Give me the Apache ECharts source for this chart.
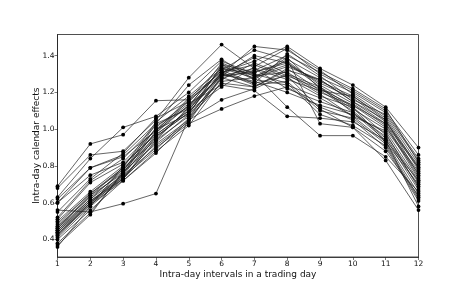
<!DOCTYPE html>
<html>
<head>
<meta charset="utf-8">
<script src="https://cdn.jsdelivr.net/npm/echarts@6/dist/echarts.min.js"></script>
<style>html,body{margin:0;padding:0;background:#fff}#c{width:465px;height:290px}</style>
</head>
<body>
<div id="c"></div>
<script>
const intervals = [1,2,3,4,5,6,7,8,9,10,11,12];
const yTicks = [0.4,0.6,0.8,1.0,1.2,1.4];
const s1 = [0.69, 0.92, 0.97, 1.155, 1.16, 1.30, 1.25, 1.29, 1.22, 1.13, 1.03, 0.74];
const s2 = [0.68, 0.86, 0.88, 1.05, 1.28, 1.46, 1.33, 1.27, 1.21, 1.18, 1.06, 0.79];
const s3 = [0.63, 0.84, 1.01, 1.07, 1.20, 1.37, 1.30, 1.12, 0.965, 0.965, 0.85, 0.66];
const s4 = [0.62, 0.79, 0.86, 1.03, 1.24, 1.38, 1.27, 1.24, 1.17, 1.07, 0.93, 0.70];
const s5 = [0.60, 0.79, 0.85, 0.99, 1.17, 1.31, 1.37, 1.45, 1.33, 1.24, 1.12, 0.90];
const s6 = [0.60, 0.75, 0.82, 1.00, 1.14, 1.24, 1.21, 1.07, 1.06, 1.04, 0.94, 0.72];
const s7 = [0.56, 0.55, 0.595, 0.65, 1.06, 1.30, 1.26, 1.20, 1.13, 1.08, 0.98, 0.68];
const s8 = [0.55, 0.73, 0.87, 1.06, 1.15, 1.32, 1.43, 1.38, 1.28, 1.20, 1.09, 0.84];
const s9 = [0.52, 0.72, 0.84, 1.02, 1.12, 1.36, 1.29, 1.31, 1.20, 1.13, 1.01, 0.77];
const s10 = [0.51, 0.71, 0.81, 0.97, 1.10, 1.23, 1.34, 1.44, 1.30, 1.21, 1.10, 0.86];
const s11 = [0.50, 0.66, 0.80, 0.98, 1.13, 1.29, 1.40, 1.36, 1.25, 1.17, 1.04, 0.80];
const s12 = [0.49, 0.65, 0.79, 1.04, 1.18, 1.33, 1.28, 1.34, 1.27, 1.15, 1.05, 0.75];
const s13 = [0.48, 0.65, 0.78, 0.96, 1.09, 1.31, 1.24, 1.26, 1.10, 1.06, 0.92, 0.63];
const s14 = [0.47, 0.64, 0.79, 0.94, 1.07, 1.28, 1.32, 1.40, 1.31, 1.22, 1.11, 0.82];
const s15 = [0.47, 0.63, 0.77, 0.92, 1.05, 1.16, 1.22, 1.30, 1.23, 1.12, 0.97, 0.71];
const s16 = [0.46, 0.64, 0.76, 0.95, 1.11, 1.30, 1.45, 1.43, 1.32, 1.19, 1.07, 0.81];
const s17 = [0.46, 0.62, 0.75, 0.90, 1.03, 1.11, 1.18, 1.23, 1.12, 1.05, 0.90, 0.61];
const s18 = [0.45, 0.62, 0.78, 0.98, 1.16, 1.35, 1.31, 1.37, 1.24, 1.14, 1.02, 0.73];
const s19 = [0.45, 0.61, 0.74, 0.93, 1.08, 1.27, 1.36, 1.29, 1.11, 1.01, 0.88, 0.64];
const s20 = [0.44, 0.60, 0.76, 1.01, 1.15, 1.32, 1.25, 1.41, 1.29, 1.16, 1.08, 0.83];
const s21 = [0.44, 0.61, 0.73, 0.91, 1.04, 1.29, 1.33, 1.22, 1.15, 1.09, 0.96, 0.69];
const s22 = [0.43, 0.60, 0.75, 0.97, 1.10, 1.34, 1.29, 1.35, 1.26, 1.18, 1.05, 0.78];
const s23 = [0.43, 0.59, 0.74, 0.89, 1.06, 1.25, 1.23, 1.33, 1.21, 1.10, 0.95, 0.67];
const s24 = [0.42, 0.60, 0.73, 0.94, 1.12, 1.30, 1.39, 1.30, 1.19, 1.07, 0.99, 0.72];
const s25 = [0.42, 0.59, 0.72, 0.88, 1.02, 1.26, 1.28, 1.39, 1.22, 1.11, 1.00, 0.76];
const s26 = [0.41, 0.58, 0.73, 0.96, 1.09, 1.31, 1.35, 1.28, 1.18, 1.12, 0.93, 0.65];
const s27 = [0.40, 0.56, 0.72, 0.87, 1.05, 1.28, 1.23, 1.32, 1.27, 1.15, 1.03, 0.79];
const s28 = [0.38, 0.545, 0.76, 0.99, 1.13, 1.33, 1.30, 1.25, 1.08, 1.02, 0.91, 0.62];
const s29 = [0.37, 0.535, 0.77, 1.03, 1.11, 1.29, 1.31, 1.36, 1.23, 1.09, 0.94, 0.58];
const s30 = [0.36, 0.58, 0.80, 1.00, 1.08, 1.35, 1.27, 1.38, 1.03, 1.01, 0.83, 0.56];
const allSeries = [s1,s2,s3,s4,s5,s6,s7,s8,s9,s10,s11,s12,s13,s14,s15,s16,s17,s18,s19,s20,s21,s22,s23,s24,s25,s26,s27,s28,s29,s30];

const chart = echarts.init(document.getElementById('c'), null, {renderer:'canvas'});
const font = 'DejaVu Sans';
chart.setOption({
  animation: false,
  grid: {left: 57.5, right: 46.5, top: 34.5, bottom: 33, show: true, borderColor: '#222', borderWidth: 0.8, backgroundColor: 'transparent'},
  xAxis: {
    type: 'value', min: 1, max: 12, interval: 1,
    name: 'Intra-day intervals in a trading day', nameLocation: 'middle', nameGap: 13,
    nameMoveOverlap: false,
    nameTextStyle: {fontFamily: font, fontSize: 9, color: '#111'},
    axisLine: {show: true, lineStyle: {color: '#222', width: 0.8}},
    axisTick: {show: true, inside: false, length: 3, lineStyle: {color: '#222', width: 0.6}},
    axisLabel: {fontFamily: font, fontSize: 7.5, color: '#111', margin: 3},
    splitLine: {show: false}
  },
  yAxis: {
    type: 'value', min: 0.305, max: 1.515,
    name: 'Intra-day calendar effects', nameLocation: 'middle', nameGap: 16,
    nameMoveOverlap: false,
    nameTextStyle: {fontFamily: font, fontSize: 9, color: '#111'},
    axisLine: {show: true, lineStyle: {color: '#222', width: 0.8}},
    axisTick: {show: true, inside: false, length: 3, customValues: yTicks, lineStyle: {color: '#222', width: 0.6}},
    axisLabel: {fontFamily: font, fontSize: 7.5, color: '#111', margin: 3, customValues: yTicks,
      formatter: v => v.toFixed(1)},
    splitLine: {show: false}
  },
  series: allSeries.map((s, i) => ({
    type: 'line',
    data: intervals.map((x, j) => [x, s[j]]),
    symbol: 'circle', symbolSize: 3.8,
    itemStyle: {color: '#000'},
    lineStyle: {color: '#222', width: 0.7},
    z: 2
  }))
});
</script>
</body>
</html>
